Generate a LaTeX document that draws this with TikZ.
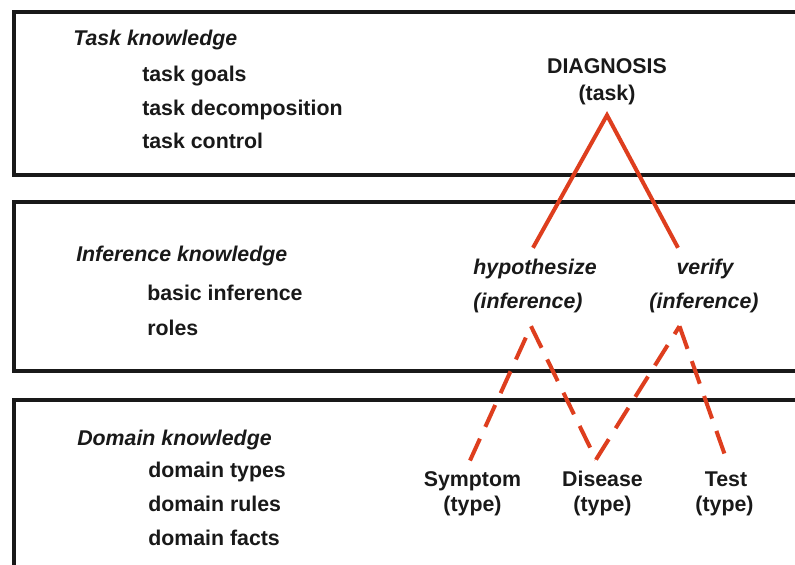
\documentclass[tikz,border=0pt]{standalone}
\usepackage{fontspec}
\setmainfont{Liberation Sans}
\usetikzlibrary{calc}
\definecolor{linkred}{RGB}{222,62,30}
\definecolor{ink}{RGB}{25,25,25}

\begin{document}
\begin{tikzpicture}[x=0.75pt,y=-0.75pt,
  layer/.style={draw=ink,line width=3pt},
  txt/.style={inner sep=0pt,text=ink,font=\fontsize{16}{19}\selectfont\bfseries},
  head/.style={txt,anchor=base west,font=\fontsize{16}{19}\selectfont\bfseries\itshape},
  item/.style={txt,anchor=base west},
  concept/.style={txt,anchor=base},
  infer/.style={txt,anchor=base,font=\fontsize{16}{19}\selectfont\bfseries\itshape},
  solidlink/.style={draw=linkred,line width=3pt},
  dashlink/.style={draw=linkred,line width=3pt,dash pattern=on 18pt off 9.75pt},
]
\useasboundingbox (0,0) rectangle (795,564);
\clip (0,0) rectangle (795,564);
\fill[white] (0,0) rectangle (795,564);

% the three knowledge layers (open to the right and bottom edge)
\draw[layer] (14,12) rectangle (830,174.7);
\draw[layer] (14,201.7) rectangle (830,371.3);
\draw[layer] (14,400) rectangle (830,620);

% layer descriptions
\node[head] (tk)  at (73,45)    {Task knowledge};
\node[item] (tk1) at (142,81.5) {task goals};
\node[item] (tk2) at (142,115)  {task decomposition};
\node[item] (tk3) at (142,148.3){task control};

\node[head] (ik)  at (76,261) {Inference knowledge};
\node[item] (ik1) at (147,300) {basic inference};
\node[item] (ik2) at (147,335) {roles};

\node[head] (dk)  at (77,445)   {Domain knowledge};
\node[item] (dk1) at (148,477)  {domain types};
\node[item] (dk2) at (148,511.5){domain rules};
\node[item] (dk3) at (148,545)  {domain facts};

% task, inferences and domain types
\node[concept] (diag)  at (607,73)  {DIAGNOSIS};
\node[concept] (diagt) at (607,100) {(task)};
\node[infer] (hyp)  at (535,274) {hypothesize};
\node[infer] (hypt) at (528,308) {(inference)};
\node[infer] (ver)  at (705,274) {verify};
\node[infer] (vert) at (704,308) {(inference)};
\node[concept] (sym)  at (472.5,486)  {Symptom};
\node[concept] (symt) at (472.5,511.5){(type)};
\node[concept] (dis)  at (602.5,486)  {Disease};
\node[concept] (dist) at (602.5,511.5){(type)};
\node[concept] (tst)  at (726,486)    {Test};
\node[concept] (tstt) at (724.5,511.5){(type)};

% connection ports
\coordinate (apex)   at ($(diagt.south)+(0,10.5)$);
\coordinate (hypin)  at ($(hyp.north)+(-2,-10.5)$);
\coordinate (verin)  at ($(ver.north)+(-27,-10.5)$);
\coordinate (hypout) at ($(hypt.south)+(3,13.5)$);
\coordinate (verout) at ($(vert.south)+(-24.5,13.5)$);
\coordinate (symin)  at ($(sym.north)+(-2.5,-10.3)$);
\coordinate (disin)  at ($(dis.north)+(-6.5,-10.7)$);
\coordinate (tstin)  at ($(tst.north)+(-1,-15.7)$);

% task decomposition
\draw[solidlink] (hypin) -- (apex) -- (verin);

% inference roles
\draw[dashlink] (symin) -- (hypout);
\draw[dashlink] (hypout) -- (disin);
\draw[dashlink] (disin) -- (verout);
\draw[dashlink] (verout) -- (tstin);
\end{tikzpicture}
\end{document}
